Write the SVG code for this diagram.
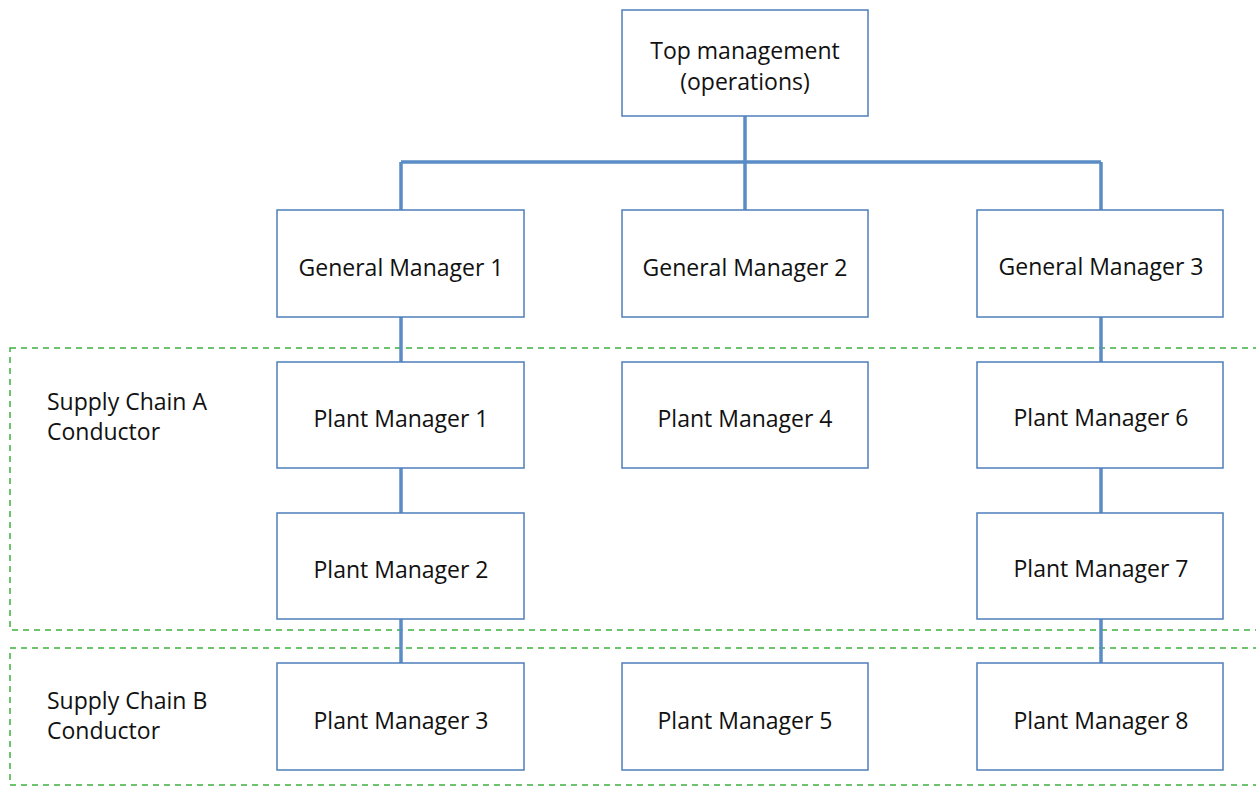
<svg xmlns="http://www.w3.org/2000/svg" width="1256" height="787" viewBox="0 0 1256 787">
<style>
.node rect{fill:#fff;stroke:#4f7fba;stroke-width:1.5}
.node text,.lbl{font-family:"Open Sans","Liberation Sans",sans-serif;font-size:23px;fill:#111}
.node text{text-anchor:middle;dominant-baseline:central}
.zone{fill:none;stroke:#3cb33c;stroke-width:1.5;stroke-dasharray:6 5}
#connectors path{fill:none;stroke:#5a8cc6;stroke-width:3.5}
</style>
<rect width="1256" height="787" fill="#fff"/>
<g id="zones">
<rect class="zone" x="10" y="348" width="1260" height="282"/>
<rect class="zone" x="10" y="648" width="1260" height="137"/>
<text class="lbl" x="47" y="410">Supply Chain A</text>
<text class="lbl" x="47" y="440">Conductor</text>
<text class="lbl" x="47" y="709">Supply Chain B</text>
<text class="lbl" x="47" y="739">Conductor</text>
</g>
<g id="connectors">
<path d="M745 116V210M401 162H1101M401 162V210M1101 162V210"/>
<path d="M401 317V362M401 468V513M401 619V663"/>
<path d="M1101 317V362M1101 468V513M1101 619V663"/>
</g>
<g id="top" class="node"><rect x="622" y="10" width="246" height="106"/><text x="745" y="50">Top management</text><text x="745" y="81">(operations)</text></g>
<g id="gm1" class="node"><rect x="277" y="210" width="247" height="107"/><text x="401" y="267">General Manager 1</text></g>
<g id="gm2" class="node"><rect x="622" y="210" width="246" height="107"/><text x="745" y="267">General Manager 2</text></g>
<g id="gm3" class="node"><rect x="977" y="210" width="246" height="107"/><text x="1101" y="266">General Manager 3</text></g>
<g id="pm1" class="node"><rect x="277" y="362" width="247" height="106"/><text x="401" y="418">Plant Manager 1</text></g>
<g id="pm4" class="node"><rect x="622" y="362" width="246" height="106"/><text x="745" y="418">Plant Manager 4</text></g>
<g id="pm6" class="node"><rect x="977" y="362" width="246" height="106"/><text x="1101" y="417">Plant Manager 6</text></g>
<g id="pm2" class="node"><rect x="277" y="513" width="247" height="106"/><text x="401" y="569">Plant Manager 2</text></g>
<g id="pm7" class="node"><rect x="977" y="513" width="246" height="106"/><text x="1101" y="568">Plant Manager 7</text></g>
<g id="pm3" class="node"><rect x="277" y="663" width="247" height="107"/><text x="401" y="720">Plant Manager 3</text></g>
<g id="pm5" class="node"><rect x="622" y="663" width="246" height="107"/><text x="745" y="720">Plant Manager 5</text></g>
<g id="pm8" class="node"><rect x="977" y="663" width="246" height="107"/><text x="1101" y="720">Plant Manager 8</text></g>
</svg>
